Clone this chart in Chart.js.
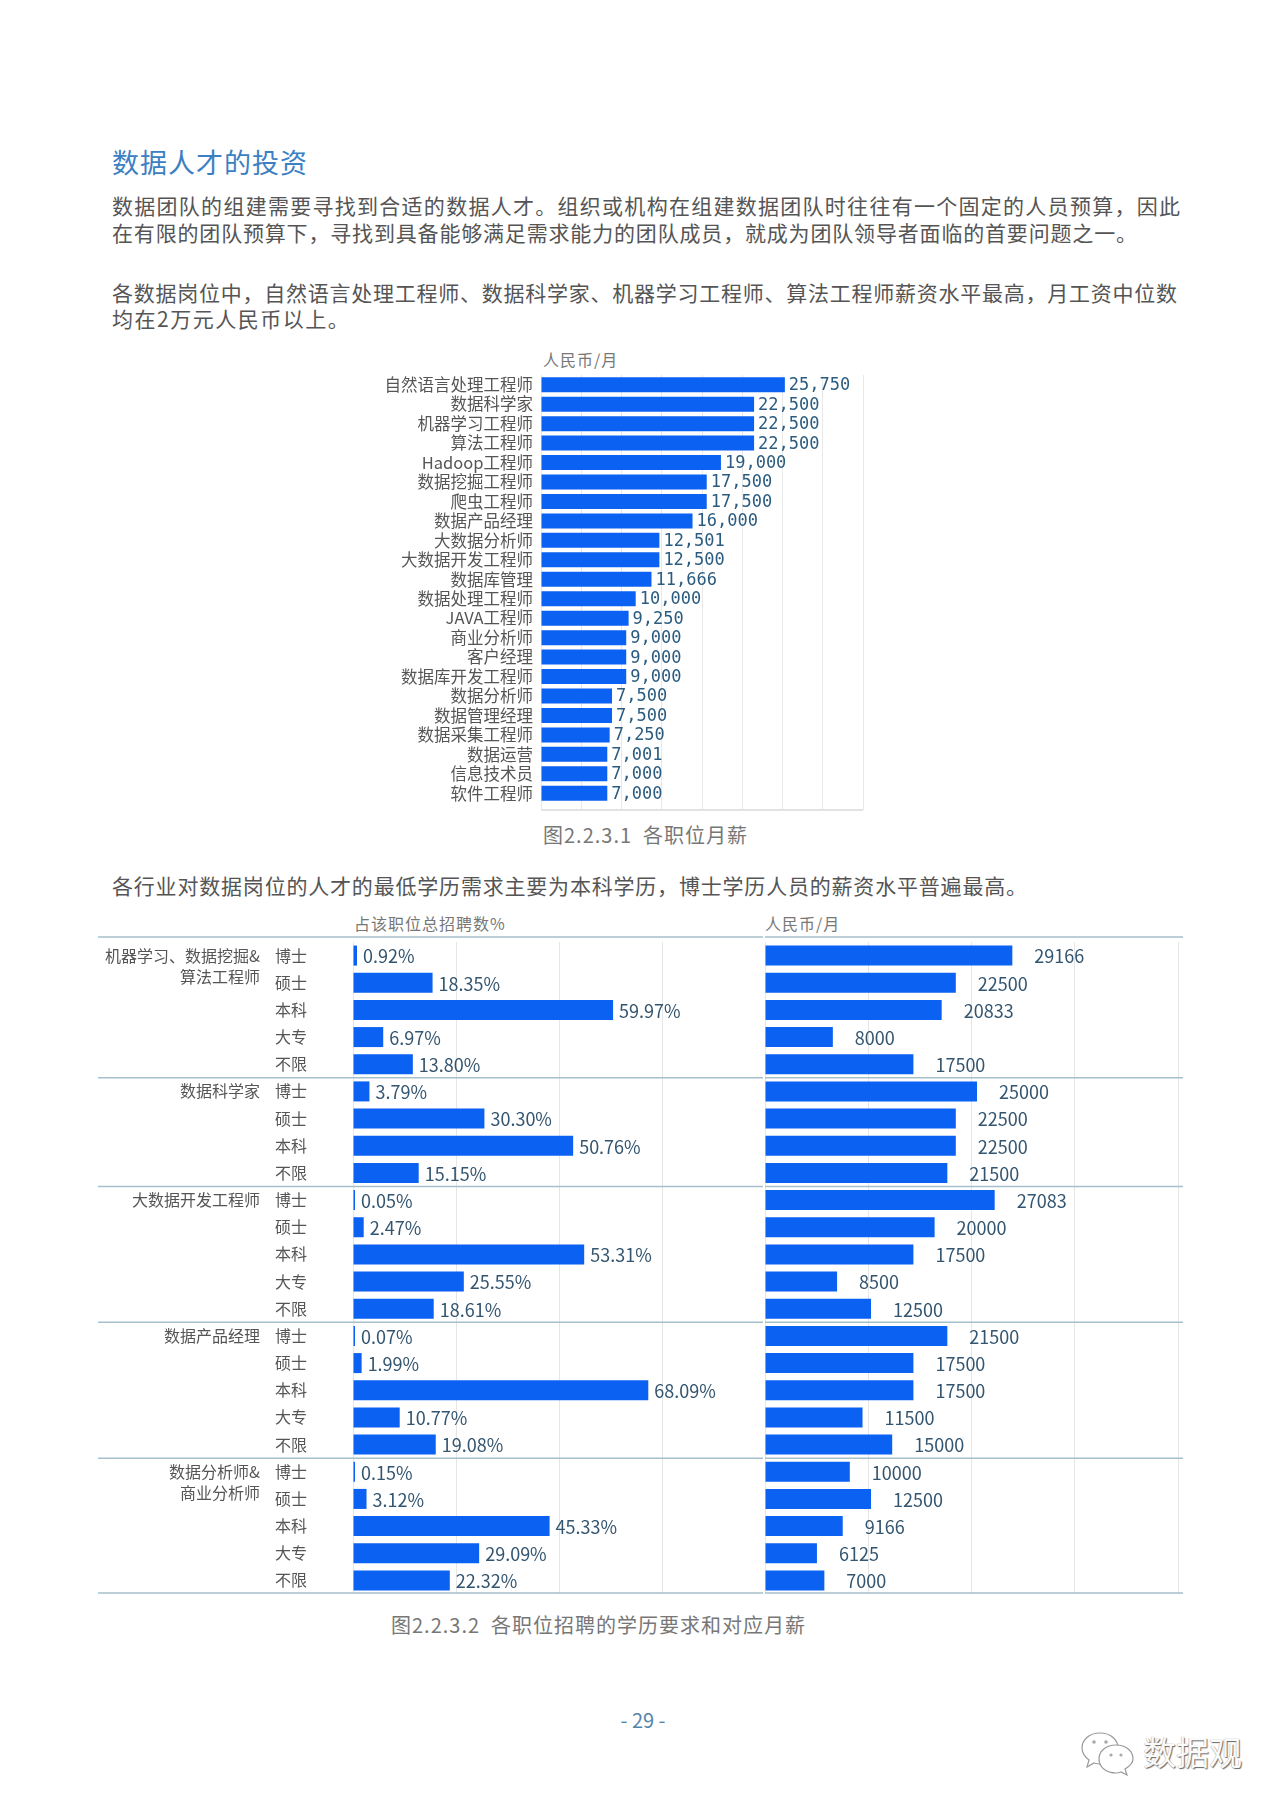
<!DOCTYPE html>
<html lang="zh-CN">
<head>
<meta charset="utf-8">
<title>数据人才的投资</title>
<script src="https://cdn.jsdelivr.net/npm/chart.js@4.4.1/dist/chart.umd.min.js"></script>
<style>
  html, body { margin:0; padding:0; background:#fff; }
  body { width:1280px; height:1809px; position:relative; overflow:hidden;
         font-family:'Noto Sans CJK SC','Noto Sans',sans-serif; color:#555; }
  .abs { position:absolute; }
  .one { white-space:nowrap; }
  .title { left:112px; top:146px; font-size:27px; line-height:32px; color:#3b80c3; letter-spacing:1px; }
  .para { left:112px; font-size:21px; line-height:26px; text-align:justify; text-align-last:justify; }
  .unit { font-size:16px; line-height:20px; color:#777; letter-spacing:1px; }
  .cap { font-size:20px; line-height:25px; color:#777; white-space:pre; letter-spacing:1px; }
  canvas { position:absolute; }
</style>
</head>
<body>

<div class="abs one title">数据人才的投资</div>
<div class="abs para" style="top:192px;width:1068px">数据团队的组建需要寻找到合适的数据人才。组织或机构在组建数据团队时往往有一个固定的人员预算，因此</div>
<div class="abs para" style="top:219px;width:1025px">在有限的团队预算下，寻找到具备能够满足需求能力的团队成员，就成为团队领导者面临的首要问题之一。</div>
<div class="abs para" style="top:279px;width:1065px">各数据岗位中，自然语言处理工程师、数据科学家、机器学习工程师、算法工程师薪资水平最高，月工资中位数</div>
<div class="abs one" style="left:112px;top:305px;font-size:21px;line-height:26px;letter-spacing:1.5px">均在2万元人民币以上。</div>

<div class="abs one unit" style="left:543px;top:349px">人民币/月</div>
<canvas id="salaryChart" width="541" height="443" style="left:330px;top:370px"></canvas>
<div class="abs cap" style="left:543px;top:822px">图2.2.3.1  各职位月薪</div>

<div class="abs para" style="top:872px;width:915px">各行业对数据岗位的人才的最低学历需求主要为本科学历，博士学历人员的薪资水平普遍最高。</div>

<div class="abs one unit" style="left:354px;top:913px">占该职位总招聘数%</div>
<div class="abs one unit" style="left:765px;top:913px">人民币/月</div>
<canvas id="eduShareChart" width="667" height="666" style="left:98px;top:932px"></canvas>
<canvas id="eduSalaryChart" width="420" height="666" style="left:765px;top:932px"></canvas>
<div class="abs cap" style="left:391px;top:1612px">图2.2.3.2  各职位招聘的学历要求和对应月薪</div>

<div class="abs one" style="left:543px;top:1706px;width:200px;text-align:center;font-size:20px;line-height:28px;color:#5484a8">- 29 -</div>

<svg class="abs" style="left:1080px;top:1730px" width="56" height="46" viewBox="0 0 56 46">
  <g fill="#fff" stroke="#999" stroke-width="1.2">
    <path d="M20 3 C9 3 2 10 2 18 C2 23 5 27 9 30 L7 37 L14 33 C16 33.5 18 34 20 34 C31 34 38 27 38 18 C38 10 31 3 20 3 Z"/>
    <path d="M36 15 C26 15 19 21 19 29 C19 37 26 43 36 43 C38 43 40 42.5 41 42 L47 45 L45 39 C50 36 53 33 53 29 C53 21 46 15 36 15 Z"/>
  </g>
  <g fill="#aaa">
    <circle cx="14" cy="12" r="1.8"/><circle cx="26" cy="12" r="1.8"/>
    <circle cx="31" cy="25" r="1.6"/><circle cx="41" cy="25" r="1.6"/>
  </g>
</svg>
<div class="abs one" style="left:1143px;top:1731px;font-size:33px;line-height:40px;color:#fafafa;text-shadow:1px 1px 1px #666,-0.5px -0.5px 0.5px #bbb">数据观</div>

<script>
// 图2.2.3.1 各职位月薪
const jobTitles = ['自然语言处理工程师', '数据科学家', '机器学习工程师', '算法工程师', 'Hadoop工程师',
  '数据挖掘工程师', '爬虫工程师', '数据产品经理', '大数据分析师', '大数据开发工程师', '数据库管理',
  '数据处理工程师', 'JAVA工程师', '商业分析师', '客户经理', '数据库开发工程师', '数据分析师',
  '数据管理经理', '数据采集工程师', '数据运营', '信息技术员', '软件工程师'];
const jobSalary = [25750, 22500, 22500, 22500, 19000, 17500, 17500, 16000, 12501, 12500, 11666,
  10000, 9250, 9000, 9000, 9000, 7500, 7500, 7250, 7001, 7000, 7000];

// 图2.2.3.2 各职位招聘的学历要求和对应月薪
const roleNames = [['机器学习、数据挖掘&', '算法工程师'], ['数据科学家'], ['大数据开发工程师'],
  ['数据产品经理'], ['数据分析师&', '商业分析师']];
const roleLevels = [
  ['博士', '硕士', '本科', '大专', '不限'],
  ['博士', '硕士', '本科', '不限'],
  ['博士', '硕士', '本科', '大专', '不限'],
  ['博士', '硕士', '本科', '大专', '不限'],
  ['博士', '硕士', '本科', '大专', '不限']
];
const levelShare = [
  [0.92, 18.35, 59.97, 6.97, 13.80],
  [3.79, 30.30, 50.76, 15.15],
  [0.05, 2.47, 53.31, 25.55, 18.61],
  [0.07, 1.99, 68.09, 10.77, 19.08],
  [0.15, 3.12, 45.33, 29.09, 22.32]
];
const levelSalary = [
  [29166, 22500, 20833, 8000, 17500],
  [25000, 22500, 22500, 21500],
  [27083, 20000, 17500, 8500, 12500],
  [21500, 17500, 17500, 11500, 15000],
  [10000, 12500, 9166, 6125, 7000]
];

const FONT = "'Noto Sans CJK SC','Noto Sans',sans-serif";
const BAR = '#0b61f1';

// text at the end of each bar
function valueLabels(fmt, gap, font, color) {
  return {
    id: 'valueLabels',
    afterDatasetsDraw(chart) {
      const ctx = chart.ctx;
      const vals = chart.data.datasets[0].data;
      ctx.save();
      ctx.font = font;
      ctx.fillStyle = color;
      ctx.textBaseline = 'middle';
      chart.getDatasetMeta(0).data.forEach((bar, i) => {
        ctx.fillText(fmt(vals[i]), bar.x + gap, bar.y + 1);
      });
      ctx.restore();
    }
  };
}

// job titles right-aligned next to the bars, plus the light base line
const salaryText = {
  id: 'salaryText',
  afterDraw(chart) {
    const {ctx, chartArea, scales: {y}} = chart;
    ctx.save();
    ctx.font = '16.5px ' + FONT;
    ctx.fillStyle = '#555';
    ctx.textBaseline = 'middle';
    ctx.textAlign = 'right';
    jobTitles.forEach((t, i) => ctx.fillText(t, chartArea.left - 8, y.getPixelForValue(i)));
    ctx.strokeStyle = '#e2e2e2';
    ctx.lineWidth = 2;
    ctx.beginPath();
    ctx.moveTo(chartArea.left, chartArea.bottom + 7);
    ctx.lineTo(chartArea.right, chartArea.bottom + 7);
    ctx.stroke();
    ctx.restore();
  }
};

new Chart(document.getElementById('salaryChart'), {
  type: 'bar',
  data: {
    labels: jobTitles,
    datasets: [{ data: jobSalary, backgroundColor: BAR, barPercentage: 0.77, categoryPercentage: 1 }]
  },
  options: {
    indexAxis: 'y',
    responsive: false,
    animation: false,
    layout: { padding: { left: 211, top: 5, bottom: 3, right: 8 } },
    plugins: { legend: { display: false }, tooltip: { enabled: false } },
    scales: {
      x: {
        min: 0, max: 34000,
        ticks: { display: false, stepSize: 4250 },
        grid: { color: '#e8e8e8', drawTicks: true, tickLength: 7 },
        border: { display: false }
      },
      y: { display: false }
    }
  },
  plugins: [valueLabels(v => v.toLocaleString('en-US'), 4, "17px 'DejaVu Sans Mono'", '#2b5c80'), salaryText]
});

// flatten the groups into rows
const rowLevels = roleLevels.flat();
const groupStart = [];
roleLevels.reduce((n, g) => { groupStart.push(n); return n + g.length; }, 0);

// separator lines between job groups, spanning the whole canvas
const groupLines = {
  id: 'groupLines',
  afterDraw(chart) {
    const {ctx, chartArea, scales: {y}} = chart;
    const ys = [chartArea.top - 5];
    groupStart.slice(1).forEach(s => ys.push((y.getPixelForValue(s - 1) + y.getPixelForValue(s)) / 2));
    ys.push(chartArea.bottom - 1);
    ctx.save();
    ctx.strokeStyle = '#a6bfcd';
    ctx.lineWidth = 1.5;
    ys.forEach(py => {
      ctx.beginPath();
      ctx.moveTo(0, py);
      ctx.lineTo(chart.width - 2, py);
      ctx.stroke();
    });
    ctx.restore();
  }
};

// job names and education levels on the left of the share chart
const rowText = {
  id: 'rowText',
  afterDraw(chart) {
    const {ctx, chartArea, scales: {y}} = chart;
    ctx.save();
    ctx.font = '16px ' + FONT;
    ctx.fillStyle = '#555';
    ctx.textBaseline = 'middle';
    ctx.textAlign = 'left';
    rowLevels.forEach((t, i) => ctx.fillText(t, chartArea.left - 78, y.getPixelForValue(i)));
    ctx.textAlign = 'right';
    roleNames.forEach((lines, g) => {
      const py = y.getPixelForValue(groupStart[g]);
      lines.forEach((t, k) => ctx.fillText(t, chartArea.left - 93, py + k * 21));
    });
    ctx.restore();
  }
};

function eduOptions(max, padding) {
  return {
    indexAxis: 'y',
    responsive: false,
    animation: false,
    layout: { padding },
    plugins: { legend: { display: false }, tooltip: { enabled: false } },
    scales: {
      x: {
        min: 0, max,
        ticks: { display: false, stepSize: max / 4 },
        grid: { color: '#e6e6e6', drawTicks: false },
        border: { display: false }
      },
      y: { display: false }
    }
  };
}

new Chart(document.getElementById('eduShareChart'), {
  type: 'bar',
  data: {
    labels: rowLevels,
    datasets: [{ data: levelShare.flat(), backgroundColor: BAR, barPercentage: 0.737,
      categoryPercentage: 1, minBarLength: 2 }]
  },
  options: eduOptions(95, { left: 255, top: 10, bottom: 4, right: 0 }),
  plugins: [valueLabels(v => v.toFixed(2) + '%', 6, '18px ' + FONT, '#34556f'), groupLines, rowText]
});

new Chart(document.getElementById('eduSalaryChart'), {
  type: 'bar',
  data: {
    labels: rowLevels,
    datasets: [{ data: levelSalary.flat(), backgroundColor: BAR, barPercentage: 0.737,
      categoryPercentage: 1 }]
  },
  options: eduOptions(48700, { left: 0, top: 10, bottom: 4, right: 7 }),
  plugins: [valueLabels(v => String(v), 22, '18px ' + FONT, '#34556f'), groupLines]
});
</script>
</body>
</html>
